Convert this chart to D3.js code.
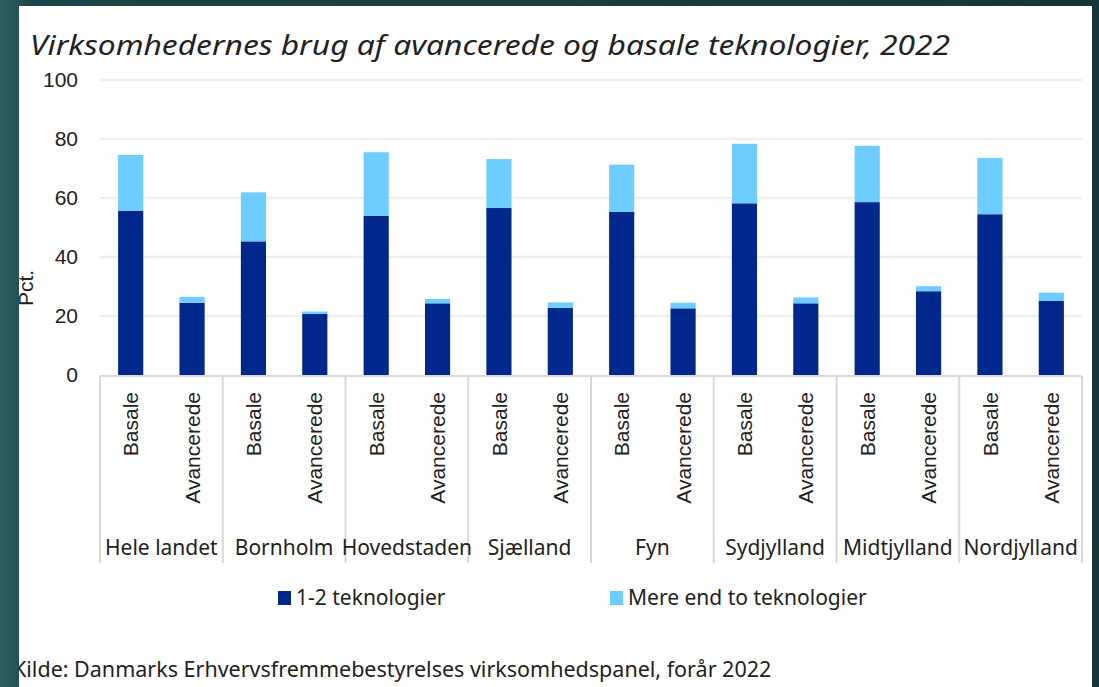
<!DOCTYPE html>
<html>
<head>
<meta charset="utf-8">
<script src="https://cdn.jsdelivr.net/npm/d3@7"></script>
<style>
  html, body { margin: 0; padding: 0; background: #183a3f; }
  svg { display: block; }
</style>
</head>
<body>
<div id="chart"></div>
<script>
var regions = ["Hele landet", "Bornholm", "Hovedstaden", "Sjælland", "Fyn", "Sydjylland", "Midtjylland", "Nordjylland"];
var types = ["Basale", "Avancerede"];
var seriesNames = ["1-2 teknologier", "Mere end to teknologier"];
// 1-2 teknologier, per region: [Basale, Avancerede]
var oneTwo = [[55.7, 24.5], [45.3, 20.7], [54.0, 24.3], [56.6, 22.8], [55.3, 22.6], [58.2, 24.3], [58.6, 28.4], [54.5, 25.1]];
// Mere end to teknologier, per region: [Basale, Avancerede]
var moreThanTwo = [[18.9, 2.0], [16.6, 0.8], [21.5, 1.5], [16.6, 1.8], [16.0, 1.9], [20.2, 2.0], [19.1, 1.7], [19.1, 2.8]];
var yTicks = [0, 20, 40, 60, 80, 100];
var colors = ["#00288c", "#6dcdff"];

var W = 1099, H = 687;
var svg = d3.select("#chart").append("svg")
    .attr("width", W)
    .attr("height", H);

// background
var defs = svg.append("defs");
var grad = defs.append("linearGradient").attr("id", "bg").attr("x1", 0).attr("x2", 1).attr("y1", 0).attr("y2", 0);
grad.append("stop").attr("offset", "0%").attr("stop-color", "#2e6163");
grad.append("stop").attr("offset", "3%").attr("stop-color", "#1d4448");
grad.append("stop").attr("offset", "100%").attr("stop-color", "#173539");
svg.append("rect").attr("width", W).attr("height", H).attr("fill", "url(#bg)");

defs.append("clipPath").attr("id", "panel")
  .append("rect").attr("x", 19).attr("y", 6).attr("width", 1073).attr("height", H - 6);

svg.append("rect")
    .attr("x", 19).attr("y", 6)
    .attr("width", 1073).attr("height", H - 6)
    .attr("fill", "#ffffff");

var g = svg.append("g").attr("clip-path", "url(#panel)");

// title
g.append("text")
    .attr("x", 30).attr("y", 55)
    .attr("font-family", "'Noto Sans', sans-serif")
    .attr("font-style", "italic")
    .attr("font-size", 28)
    .attr("fill", "#222")
    .attr("textLength", 920)
    .attr("lengthAdjust", "spacingAndGlyphs")
    .text("Virksomhedernes brug af avancerede og basale teknologier, 2022");

var x0 = d3.scaleBand().domain(regions).range([100, 1082]);
var x1 = d3.scaleBand().domain(types).range([0, x0.bandwidth()])
    .paddingInner(0.59).paddingOuter(0.295);
var y = d3.scaleLinear().domain([0, 100]).range([375, 80]);

// gridlines
g.append("g").selectAll("line")
  .data(yTicks.filter(function(d) { return d > 0; }))
  .enter().append("line")
    .attr("x1", 100).attr("x2", 1082)
    .attr("y1", function(d) { return y(d); })
    .attr("y2", function(d) { return y(d); })
    .attr("stroke", "#eeeeee")
    .attr("stroke-width", 2.5);

// y axis labels
var yAxis = g.append("g")
    .attr("transform", "translate(88,0)")
    .call(d3.axisLeft(y).tickValues(yTicks).tickSize(0).tickPadding(10));
yAxis.select(".domain").remove();
yAxis.selectAll("text")
    .attr("font-family", "'Liberation Sans', Arial, sans-serif")
    .attr("font-size", 21)
    .attr("fill", "#222");

g.append("text")
    .attr("transform", "translate(33,288) rotate(-90)")
    .attr("text-anchor", "middle")
    .attr("font-family", "'Liberation Sans', Arial, sans-serif")
    .attr("font-size", 21)
    .attr("fill", "#222")
    .text("Pct.");

// stacked bars
var rows = [];
regions.forEach(function(r, i) {
  types.forEach(function(t, j) {
    rows.push({region: r, type: t, a: oneTwo[i][j], b: moreThanTwo[i][j]});
  });
});
var stack = d3.stack().keys(["a", "b"]);
var layers = stack(rows);

g.append("g").selectAll("g")
  .data(layers)
  .enter().append("g")
    .attr("fill", function(d, i) { return colors[i]; })
  .selectAll("rect")
  .data(function(d) { return d; })
  .enter().append("rect")
    .attr("x", function(d) { return x0(d.data.region) + x1(d.data.type); })
    .attr("width", x1.bandwidth())
    .attr("y", function(d) { return y(d[1]); })
    .attr("height", function(d) { return y(d[0]) - y(d[1]); });

// x axis line and group separators
g.append("line")
    .attr("x1", 100).attr("x2", 1082)
    .attr("y1", 376).attr("y2", 376)
    .attr("stroke", "#d9d9d9").attr("stroke-width", 2);

var bounds = regions.map(function(r) { return x0(r); }).concat([1082]);
g.append("g").selectAll("line")
  .data(bounds)
  .enter().append("line")
    .attr("x1", function(d) { return d; })
    .attr("x2", function(d) { return d; })
    .attr("y1", 376).attr("y2", 563)
    .attr("stroke", "#d9d9d9").attr("stroke-width", 2);

// type labels (rotated)
g.append("g").selectAll("text")
  .data(rows)
  .enter().append("text")
    .attr("transform", function(d) {
      var cx = x0(d.region) + x1(d.type) + x1.bandwidth() / 2;
      return "translate(" + cx + ",392) rotate(-90)";
    })
    .attr("text-anchor", "end")
    .attr("dy", "0.36em")
    .attr("font-family", "'Liberation Sans', Arial, sans-serif")
    .attr("font-size", 21)
    .attr("fill", "#222")
    .text(function(d) { return d.type; });

// region labels
g.append("g").selectAll("text")
  .data(regions)
  .enter().append("text")
    .attr("x", function(d) { return x0(d) + x0.bandwidth() / 2; })
    .attr("y", 555)
    .attr("text-anchor", "middle")
    .attr("font-family", "'Noto Sans', sans-serif")
    .attr("font-size", 21)
    .attr("fill", "#222")
    .text(function(d) { return d; });

// legend
var legX = [278, 610];
var leg = g.append("g").selectAll("g")
  .data(seriesNames)
  .enter().append("g")
    .attr("transform", function(d, i) { return "translate(" + legX[i] + ",591)"; });
leg.append("rect")
    .attr("width", 13).attr("height", 14)
    .attr("fill", function(d, i) { return colors[i]; });
leg.append("text")
    .attr("x", 18).attr("y", 14)
    .attr("font-family", "'Noto Sans', sans-serif")
    .attr("font-size", 21)
    .attr("fill", "#222")
    .text(function(d) { return d; });

// source
g.append("text")
    .attr("x", 13).attr("y", 677)
    .attr("font-family", "'Noto Sans', sans-serif")
    .attr("font-size", 21.5)
    .attr("fill", "#222")
    .text("Kilde: Danmarks Erhvervsfremmebestyrelses virksomhedspanel, forår 2022");
</script>
</body>
</html>
